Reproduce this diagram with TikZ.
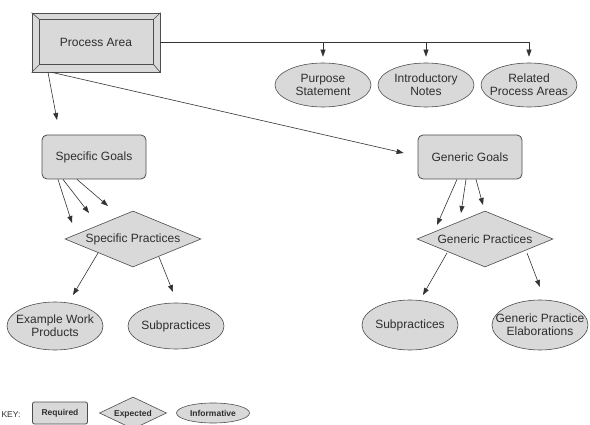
\documentclass[tikz,border=0pt]{standalone}
\usepackage{fontspec}
\setmainfont{Liberation Sans}
\usetikzlibrary{shapes.geometric,arrows.meta}
\definecolor{boxfill}{HTML}{D9D9D9}
\definecolor{edge}{HTML}{4D4D4D}
\definecolor{ink}{HTML}{2E2E2E}

\begin{document}
\begin{tikzpicture}[x=1pt, y=-1pt,
    font=\fontsize{12}{13}\selectfont, text=ink,
    req/.style={draw=edge, fill=boxfill, rounded corners=5pt, minimum width=104pt, minimum height=44pt, line width=0.8pt},
    expd/.style={draw=edge, fill=boxfill, diamond, aspect=2.4, inner sep=0pt, minimum width=136pt, minimum height=56pt, line width=0.6pt},
    info/.style={draw=edge, fill=boxfill, ellipse, inner xsep=-11pt, inner ysep=0pt, minimum width=96pt, minimum height=46pt, align=center, line width=0.6pt},
    keyfont/.style={font=\fontsize{8.5}{9}\selectfont\bfseries},
    arr/.style={-{Triangle[length=7pt,width=5pt]}, draw=black!80, line width=0.6pt}]
    \useasboundingbox[fill=white] (0,0) rectangle (590,425);

    \node[draw=edge, fill=boxfill, minimum width=128pt, minimum height=59pt, line width=0.8pt] (pa) at (96,42.5) {Process Area};
    \draw[edge, line width=0.6pt] ([shift={(8,7)}]pa.north west) rectangle ([shift={(-7,-8)}]pa.south east);
    \draw[edge, line width=0.6pt] (pa.north west) -- ([shift={(8,7)}]pa.north west);
    \draw[edge, line width=0.6pt] (pa.north east) -- ([shift={(-7,7)}]pa.north east);
    \draw[edge, line width=0.6pt] (pa.south west) -- ([shift={(8,-8)}]pa.south west);
    \draw[edge, line width=0.6pt] (pa.south east) -- ([shift={(-7,-8)}]pa.south east);

    \node[info, minimum height=44pt] (ps) at (323,85) {Purpose\\Statement};
    \node[info, minimum height=44pt] (in) at (426,85) {Introductory\\Notes};
    \node[info, minimum height=44pt] (rpa) at (529,85) {Related\\Process Areas};

    \node[req] (sg) at (94,157) {Specific Goals};
    \node[req] (gg) at (470,157) {Generic Goals};
    \node[expd] (sp) at (133,239) {Specific Practices};
    \node[expd] (gp) at (485,239) {Generic Practices};

    \node[info, minimum height=48pt] (ewp) at (55,326) {Example Work\\Products};
    \node[info] (sub) at (176,326) {Subpractices};
    \node[info, minimum height=50pt] (gsub) at (410,325) {Subpractices};
    \node[info, minimum height=50pt] (gpe) at (540,325) {Generic Practice\\Elaborations};

    % process area links
    \draw[draw=black!80, line width=0.6pt] (pa.east) -- (pa.east -| rpa);
    \draw[arr, shorten >=6pt] (pa.east -| ps) -- (ps);
    \draw[arr, shorten >=6pt] (pa.east -| in) -- (in);
    \draw[arr, shorten >=6pt] (pa.east -| rpa) -- (rpa);
    \draw[arr] ([xshift=-48pt]pa.south) -- ([shift={(-37,-37)}]sg.center);
    \draw[arr] ([xshift=-44pt]pa.south) -- ([shift={(-14,-4)}]gg.west);

    % specific side
    \draw[arr] ([xshift=-36pt]sg.south) -- ([shift={(-61,-16)}]sp.center);
    \draw[arr] ([xshift=-31pt]sg.south) -- ([shift={(-44,-26)}]sp.center);
    \draw[arr] ([xshift=-17pt]sg.south) -- ([shift={(-25,-33)}]sp.center);
    \draw[arr] ([shift={(-35,14)}]sp.center) -- ([shift={(18,-31)}]ewp.center);
    \draw[arr] ([shift={(26,18)}]sp.center) -- ([shift={(-3,-34)}]sub.center);

    % generic side
    \draw[arr] ([xshift=-13pt]gg.south) -- ([shift={(-48,-14)}]gp.center);
    \draw[arr] ([xshift=-4pt]gg.south) -- ([shift={(-24,-26)}]gp.center);
    \draw[arr] ([xshift=6pt]gg.south) -- ([shift={(-2,-34)}]gp.center);
    \draw[arr] ([shift={(-38,14)}]gp.center) -- ([shift={(13,-30)}]gsub.center);
    \draw[arr] ([shift={(42,14)}]gp.center) -- ([shift={(0,-38)}]gpe.center);

    % key
    \node[anchor=west, font=\fontsize{8.5}{9}\selectfont] (key) at (-2,415) {KEY:};
    \node[req, keyfont, rounded corners=2pt, minimum width=55pt, minimum height=22pt] (kreq) at (60,413) {Required};
    \node[expd, keyfont, text depth=0pt, minimum width=67pt, minimum height=32pt] (kexp) at (133,413) {Expected};
    \node[info, keyfont, inner xsep=0pt, minimum width=73pt, minimum height=20pt] (kinf) at (213,413) {Informative};
\end{tikzpicture}
\end{document}
